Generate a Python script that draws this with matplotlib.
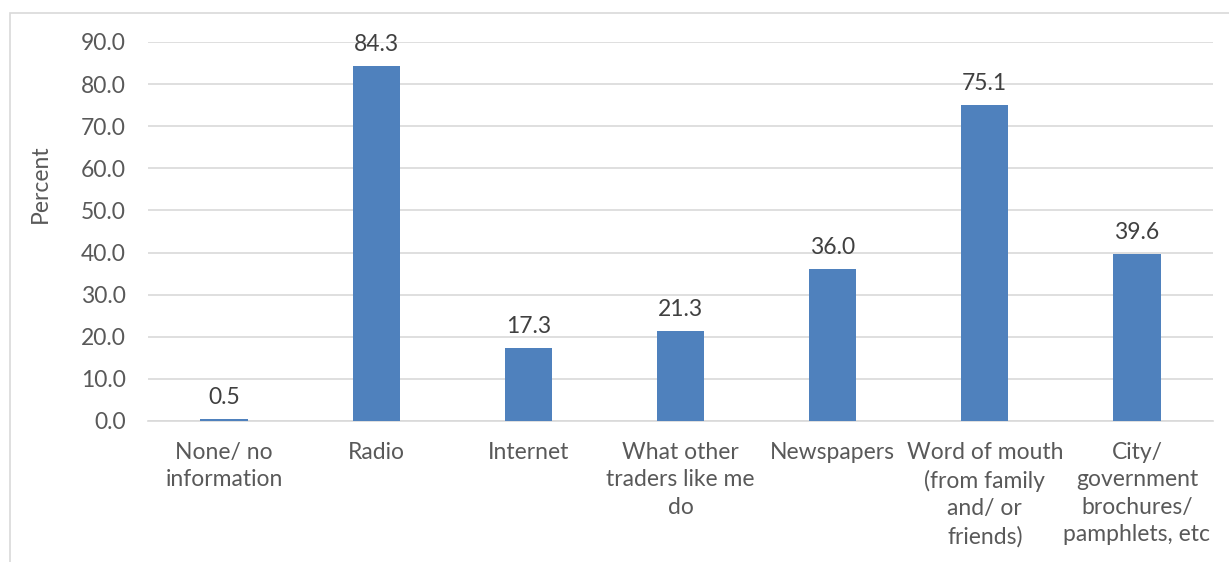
import numpy as np
import matplotlib.pyplot as plt
from matplotlib.patches import Rectangle

FONT = ['Lato', 'DejaVu Sans']
TEXT_COLOR = '#595959'
GRID_COLOR = '#d9d9d9'
BAR_COLOR = '#4f81bd'
FS = 16.5

categories = [
    'None/ no\ninformation',
    'Radio',
    'Internet',
    'What other\ntraders like me\ndo',
    'Newspapers',
    'Word of mouth\n(from family\nand/ or\nfriends)',
    'City/\ngovernment\nbrochures/\npamphlets, etc',
]
percent = [0.5, 84.3, 17.3, 21.3, 36.0, 75.1, 39.6]
yticks = np.arange(0, 100, 10)

plt.rcParams['font.family'] = FONT

fig = plt.figure(figsize=(12.29, 5.62), dpi=100)
ax = fig.add_axes([0.1204, 0.2509, 0.8666, 0.6744])

# light chart-area border (runs off the right and bottom edges)
fig.patches.append(Rectangle((10, -20), 1260, 569, transform=None,
                             fill=False, edgecolor=GRID_COLOR, linewidth=1.2))

x = np.arange(len(categories))
bars = ax.bar(x, percent, width=0.31, color=BAR_COLOR, zorder=3)

for b, v in zip(bars, percent):
    ax.annotate('%.1f' % v, (b.get_x() + b.get_width() / 2, v),
                xytext=(0, 8), textcoords='offset points',
                ha='center', va='bottom', fontsize=FS, color='#404040')

ax.set_xlim(-0.5, len(categories) - 0.5)
ax.set_ylim(0, 90)
ax.set_yticks(yticks)
ax.set_yticklabels(['%.1f' % t for t in yticks], fontsize=FS, color=TEXT_COLOR)
ax.set_xticks(x)
ax.set_xticklabels(categories, fontsize=FS, color=TEXT_COLOR, linespacing=1.38)
ax.tick_params(axis='x', length=0, pad=15)
ax.tick_params(axis='y', length=0, pad=16)

ax.grid(axis='y', color=GRID_COLOR, linewidth=1.2, zorder=0)
for s in ['top', 'right', 'left']:
    ax.spines[s].set_visible(False)
ax.spines['bottom'].set_color(GRID_COLOR)
ax.spines['bottom'].set_linewidth(1.2)

ax.set_ylabel('Percent', fontsize=FS, color=TEXT_COLOR)
ax.yaxis.set_label_coords(-0.091, 0.625)

fig.savefig('out.png', dpi=100)
